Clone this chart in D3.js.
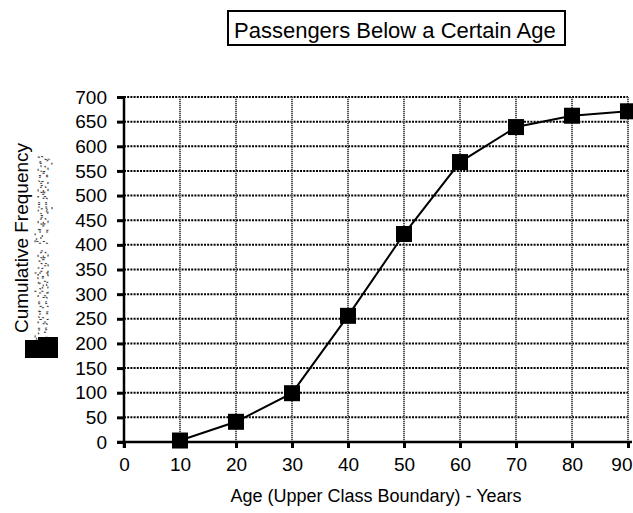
<!DOCTYPE html>
<html>
<head>
<meta charset="utf-8">
<script src="https://cdn.jsdelivr.net/npm/d3@7"></script>
<style>
  body { margin: 0; background: #fff; }
  text { font-family: "Liberation Sans", Arial, sans-serif; }
</style>
</head>
<body>
<svg id="chart"></svg>
<script>
// Data
const ages = [10, 20, 30, 40, 50, 60, 70, 80, 90];
const cumFreq = [3, 41, 99, 256, 422, 568, 639, 662, 671];
const xTicks = [0, 10, 20, 30, 40, 50, 60, 70, 80, 90];
const yTicks = [0, 50, 100, 150, 200, 250, 300, 350, 400, 450, 500, 550, 600, 650, 700];

const width = 633;
const height = 513;
const margin = { top: 97, right: 5, bottom: 71, left: 124 };

const svg = d3.select("#chart")
  .attr("width", width)
  .attr("height", height);

// Scales
const x = d3.scaleLinear()
  .domain([0, 90])
  .range([margin.left, width - margin.right]);

const y = d3.scaleLinear()
  .domain([0, 700])
  .range([height - margin.bottom, margin.top]);

// Title box
svg.append("rect")
  .attr("x", 228).attr("y", 11)
  .attr("width", 337).attr("height", 34)
  .attr("fill", "none")
  .attr("stroke", "#000")
  .attr("stroke-width", 2);

svg.append("text")
  .attr("x", 234).attr("y", 38)
  .style("font-size", "22px")
  .text("Passengers Below a Certain Age");

// Horizontal grid lines
svg.selectAll(".hgrid")
  .data(yTicks.filter(d => d > 0))
  .enter()
  .append("line")
  .attr("x1", x(0)).attr("x2", x(90))
  .attr("y1", d => y(d)).attr("y2", d => y(d))
  .attr("stroke", "#000")
  .attr("stroke-width", 2)
  .attr("stroke-dasharray", "2,1.2");

// Vertical grid lines
svg.selectAll(".vgrid")
  .data(xTicks.filter(d => d > 0))
  .enter()
  .append("line")
  .attr("x1", d => x(d)).attr("x2", d => x(d))
  .attr("y1", y(0)).attr("y2", y(700))
  .attr("stroke", "#555")
  .attr("stroke-width", 2)
  .attr("stroke-dasharray", "1.2,0.8");

// Axes
const yAxis = svg.append("g")
  .attr("transform", `translate(${x(0)},0)`)
  .call(d3.axisLeft(y).tickValues(yTicks).tickSize(7).tickPadding(10));

const xAxis = svg.append("g")
  .attr("transform", `translate(0,${y(0)})`)
  .call(d3.axisBottom(x).tickValues(xTicks).tickSize(6).tickPadding(10));

[yAxis, xAxis].forEach(g => {
  g.select(".domain").attr("stroke", "#000").attr("stroke-width", 2.5);
  g.selectAll(".tick line").attr("stroke", "#000").attr("stroke-width", 3);
  g.selectAll(".tick text").style("font-size", "19px").attr("fill", "#000")
    .style("font-family", "'Liberation Sans', Arial, sans-serif");
});
// last x label sits inside the window edge
xAxis.selectAll(".tick text").filter(d => d === 90)
  .attr("text-anchor", "end").attr("dx", "4");
// x axis domain line extends slightly left of y axis
xAxis.select(".domain").attr("d", `M${x(0) - 7},0H${x(90) + 4}`);
yAxis.select(".domain").attr("d", `M0,${y(0) + 6}V${y(700)}`);

// Line
const line = d3.line()
  .x((d, i) => x(ages[i]))
  .y(d => y(d));

svg.append("path")
  .datum(cumFreq)
  .attr("fill", "none")
  .attr("stroke", "#000")
  .attr("stroke-width", 2)
  .attr("d", line);

// Square markers
const ms = 16;
svg.selectAll(".marker")
  .data(cumFreq)
  .enter()
  .append("rect")
  .attr("x", (d, i) => x(ages[i]) - ms / 2)
  .attr("y", d => y(d) - ms / 2)
  .attr("width", ms)
  .attr("height", ms)
  .attr("fill", "#000");

// Axis labels
svg.append("text")
  .attr("x", 376)
  .attr("y", 502)
  .attr("text-anchor", "middle")
  .style("font-size", "18px")
  .text("Age (Upper Class Boundary) - Years");

svg.append("text")
  .attr("transform", "rotate(-90)")
  .attr("x", -238)
  .attr("y", 28)
  .attr("text-anchor", "middle")
  .style("font-size", "19px")
  .text("Cumulative Frequency");

// ghosted duplicate of the label (rendering artefact in the original)
svg.append("text")
  .attr("transform", "rotate(-90)")
  .attr("x", -250)
  .attr("y", 48)
  .attr("text-anchor", "middle")
  .style("font-size", "19px")
  .attr("fill", "none")
  .attr("stroke", "#333")
  .attr("stroke-width", 1)
  .attr("stroke-dasharray", "2,5")
  .text("Cumulative Frequency");

// black legend-like block next to the label
svg.append("path")
  .attr("d", "M25,340H38V337H58V358H25Z")
  .attr("fill", "#000");
</script>
</body>
</html>
